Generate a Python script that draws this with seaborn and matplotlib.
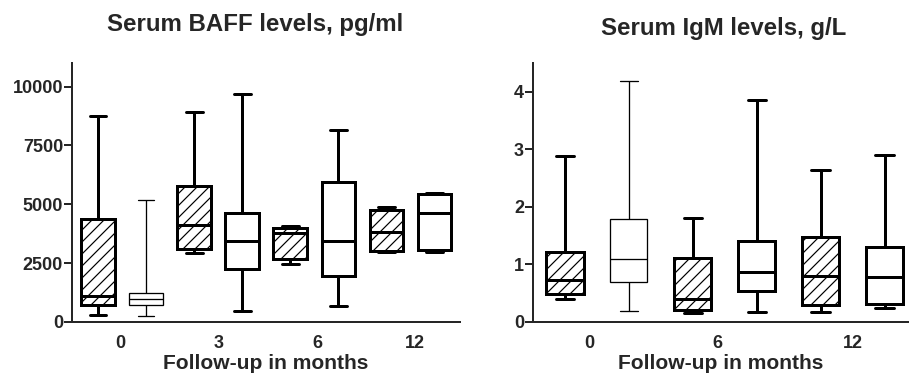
import numpy as np
import matplotlib
matplotlib.use("Agg")
import matplotlib.pyplot as plt
import seaborn as sns
import pandas as pd

# five-number summaries: whisker low, Q1, median, Q3, whisker high
baff_boxes = ["0 a", "0 b", "3 a", "3 b", "6 a", "6 b", "12 a", "12 b"]
baff_styles = ["hatch", "thin", "hatch", "plain", "hatch", "plain", "hatch", "plain"]
baff_low = [310, 270, 2930, 450, 2450, 700, 2960, 2960]
baff_q1 = [740, 710, 3100, 2230, 2680, 1970, 3030, 3050]
baff_med = [1100, 990, 4140, 3430, 3790, 3430, 3810, 4610]
baff_q3 = [4380, 1230, 5770, 4610, 3990, 5940, 4740, 5420]
baff_high = [8750, 5200, 8930, 9700, 4070, 8140, 4890, 5470]

igm_boxes = ["0 a", "0 b", "6 a", "6 b", "12 a", "12 b"]
igm_styles = ["hatch", "thin", "hatch", "plain", "hatch", "plain"]
igm_low = [0.40, 0.19, 0.15, 0.18, 0.18, 0.245]
igm_q1 = [0.48, 0.70, 0.20, 0.54, 0.30, 0.31]
igm_med = [0.725, 1.09, 0.40, 0.87, 0.80, 0.79]
igm_q3 = [1.21, 1.79, 1.105, 1.41, 1.47, 1.30]
igm_high = [2.89, 4.19, 1.81, 3.86, 2.64, 2.91]

baff_months = ["0", "3", "6", "12"]
igm_months = ["0", "6", "12"]


def long_table(boxes, *cols):
    # 5 values per box -> quartiles land exactly on Q1/median/Q3
    rows = []
    for i, b in enumerate(boxes):
        for c in cols:
            rows.append((b, c[i]))
    return pd.DataFrame(rows, columns=["box", "value"])


def draw_panel(ax, df, boxes, styles, width):
    for style, lw in [("hatch", 3), ("plain", 3), ("thin", 1.3)]:
        keep = [b for b, s in zip(boxes, styles) if s == style]
        n0 = len(ax.patches)
        sns.boxplot(data=df[df["box"].isin(keep)], x="box", y="value", order=boxes,
                    ax=ax, width=width, whis=(0, 100), color="white",
                    linecolor="black", linewidth=lw, showfliers=False)
        if style == "hatch":
            for p in ax.patches[n0:]:
                p.set_hatch("//")


sns.set_style("ticks")
plt.rcParams["font.family"] = ["Liberation Sans", "DejaVu Sans"]
plt.rcParams["font.weight"] = "bold"
plt.rcParams["hatch.linewidth"] = 1.2

fig = plt.figure(figsize=(909 / 72, 374 / 72), dpi=72)
ax1 = fig.add_axes([72 / 909, 1 - 322 / 374, 388 / 909, 259 / 374])
ax2 = fig.add_axes([533 / 909, 1 - 322 / 374, 376 / 909, 259 / 374])

baff_df = long_table(baff_boxes, baff_low, baff_q1, baff_med, baff_q3, baff_high)
igm_df = long_table(igm_boxes, igm_low, igm_q1, igm_med, igm_q3, igm_high)

draw_panel(ax1, baff_df, baff_boxes, baff_styles, 0.7)
draw_panel(ax2, igm_df, igm_boxes, igm_styles, 0.58)

ax1.set_xlim(-0.54, 7.53)
ax1.set_ylim(0, 11000)
ax1.set_yticks([0, 2500, 5000, 7500, 10000])
ax1.set_xticks([0.47, 2.5, 4.56, 6.6], baff_months)

ax2.set_xlim(-0.5, 5.38)
ax2.set_ylim(0, 4.5)
ax2.set_yticks([0, 1, 2, 3, 4])
ax2.set_xticks([0.38, 2.38, 4.5], igm_months)

for ax in (ax1, ax2):
    sns.despine(ax=ax)
    ax.spines["left"].set_linewidth(2)
    ax.spines["bottom"].set_linewidth(2)
    ax.tick_params(axis="y", length=8, width=2, pad=1, labelsize=18)
    ax.tick_params(axis="x", length=0, pad=13, labelsize=18)
    ax.set_ylabel("")
    ax.set_xlabel("Follow-up in months", fontsize=21, fontweight="bold", labelpad=2)

fig.text(255 / 909, 1 - 25 / 374, "Serum BAFF levels, pg/ml", ha="center", va="center",
         fontsize=24, fontweight="bold")
fig.text(724 / 909, 1 - 28 / 374, "Serum IgM levels, g/L", ha="center", va="center",
         fontsize=24, fontweight="bold")

fig.savefig("out.png", dpi=72)
